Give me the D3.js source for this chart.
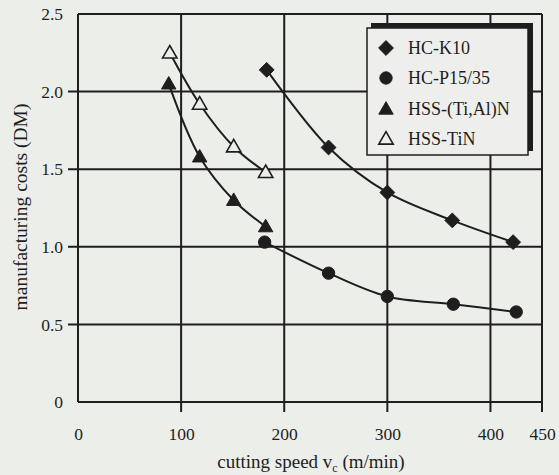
<!DOCTYPE html>
<html><head><meta charset="utf-8">
<script src="https://cdn.jsdelivr.net/npm/d3@7"></script>
<style>
html,body{margin:0;padding:0;background:#eceeea;}
svg{display:block;}
svg text{font-family:"Liberation Serif","Times New Roman",serif !important;}
</style></head>
<body>
<svg id="c" width="559" height="475"></svg>
<script>
const seriesNames = ["HC-K10", "HC-P15/35", "HSS-(Ti,Al)N", "HSS-TiN"];
const hcK10X = [183, 243, 300, 363, 422];
const hcK10Y = [2.14, 1.64, 1.35, 1.17, 1.03];
const hcP15X = [181, 243, 300, 364, 425];
const hcP15Y = [1.03, 0.83, 0.68, 0.63, 0.58];
const hssTiAlNX = [88, 118, 151, 182];
const hssTiAlNY = [2.05, 1.58, 1.30, 1.13];
const hssTiNX = [89, 118, 151, 182];
const hssTiNY = [2.25, 1.92, 1.645, 1.48];
const xTicks = [0, 100, 200, 300, 400, 450];
const yTicks = [0, 0.5, 1.0, 1.5, 2.0, 2.5];
const yTickLabels = ["0", "0.5", "1.0", "1.5", "2.0", "2.5"];

const svg = d3.select("#c");
const x = d3.scaleLinear().domain([0, 450]).range([78, 542]);
const y = d3.scaleLinear().domain([0, 2.5]).range([402, 14]);
const ink = "#1e1e1e";
const bg = "#eceeea";

// grid lines
const g = svg.append("g");
g.selectAll(".vg").data(xTicks).join("line")
  .attr("x1", d => x(d)).attr("x2", d => x(d))
  .attr("y1", y(2.5)).attr("y2", d => d === 0 ? y(0) : y(0) + 10)
  .attr("stroke", ink).attr("stroke-width", 2);
g.selectAll(".hg").data(yTicks).join("line")
  .attr("y1", d => y(d)).attr("y2", d => y(d))
  .attr("x1", d => (d === 0 || d === 2.5) ? x(0) : x(0) - 10).attr("x2", x(450))
  .attr("stroke", ink).attr("stroke-width", 2);

// axes tick labels via d3 axes (domain hidden)
const xAxis = svg.append("g").attr("transform", `translate(0,${y(0)})`)
  .call(d3.axisBottom(x).tickValues(xTicks).tickSize(0).tickPadding(26).tickFormat(d3.format("d")));
const yAxis = svg.append("g").attr("transform", `translate(${x(0)},0)`)
  .call(d3.axisLeft(y).tickValues(yTicks).tickSize(0).tickPadding(15).tickFormat((d, i) => yTickLabels[i]));
[xAxis, yAxis].forEach(a => {
  a.attr("font-family", null).attr("font-size", null);
  a.select(".domain").remove();
  a.selectAll("text").attr("font-size", 17.5).attr("fill", ink);
});

// axis titles
const xt = svg.append("text").attr("x", 311).attr("y", 468).attr("text-anchor", "middle")
  .attr("font-size", 19).attr("fill", ink);
xt.append("tspan").text("cutting speed v");
xt.append("tspan").attr("font-size", 12).attr("dy", 4).text("c");
xt.append("tspan").attr("dy", -4).text(" (m/min)");
svg.append("text").attr("transform", "translate(23,207) rotate(-90)")
  .attr("text-anchor", "middle").attr("dominant-baseline", "middle")
  .attr("font-size", 19.5).attr("fill", ink).text("manufacturing costs (DM)");

// symbols
const diamond = {draw(ctx, size) { const r = Math.sqrt(size / 2); ctx.moveTo(0, -r); ctx.lineTo(r, 0); ctx.lineTo(0, r); ctx.lineTo(-r, 0); ctx.closePath(); }};

// curves
const line = d3.line().x(d => x(d[0])).y(d => y(d[1])).curve(d3.curveCatmullRom.alpha(0.5));
const series = [
  {name: seriesNames[0], pts: d3.zip(hcK10X, hcK10Y), sym: diamond, size: 110, fill: ink},
  {name: seriesNames[1], pts: d3.zip(hcP15X, hcP15Y), sym: d3.symbolCircle, size: 120, fill: ink},
  {name: seriesNames[2], pts: d3.zip(hssTiAlNX, hssTiAlNY), sym: d3.symbolTriangle, size: 90, fill: ink},
  {name: seriesNames[3], pts: d3.zip(hssTiNX, hssTiNY), sym: d3.symbolTriangle, size: 90, fill: "none"}
];
series.forEach(s => {
  svg.append("path").attr("d", line(s.pts)).attr("fill", "none")
    .attr("stroke", ink).attr("stroke-width", 2);
});
series.forEach(s => {
  svg.selectAll(null).data(s.pts).join("path")
    .attr("transform", d => `translate(${x(d[0])},${y(d[1]) + (s.sym === d3.symbolTriangle ? 1 : 0)})`)
    .attr("d", d3.symbol().type(s.sym).size(s.size))
    .attr("fill", s.fill === "none" ? bg : s.fill)
    .attr("stroke", ink).attr("stroke-width", s.fill === "none" ? 1.6 : 1);
});

// legend
const lg = svg.append("g");
lg.append("rect").attr("x", 371).attr("y", 23).attr("width", 162).attr("height", 128).attr("fill", ink);
lg.append("rect").attr("x", 367).attr("y", 28).attr("width", 161).attr("height", 127)
  .attr("fill", "#eeefec").attr("stroke", ink).attr("stroke-width", 1.5);
const rows = [48, 78, 109, 139];
series.forEach((s, i) => {
  lg.append("path").attr("transform", `translate(386,${rows[i] + (s.sym === d3.symbolTriangle ? 1 : 0)})`)
    .attr("d", d3.symbol().type(s.sym).size(s.size))
    .attr("fill", s.fill === "none" ? "#eeefec" : s.fill)
    .attr("stroke", ink).attr("stroke-width", s.fill === "none" ? 1.6 : 1);
  lg.append("text").attr("x", 408).attr("y", rows[i]).attr("dominant-baseline", "central")
    .attr("font-size", 18).attr("fill", ink).text(s.name);
});
</script>
</body></html>
